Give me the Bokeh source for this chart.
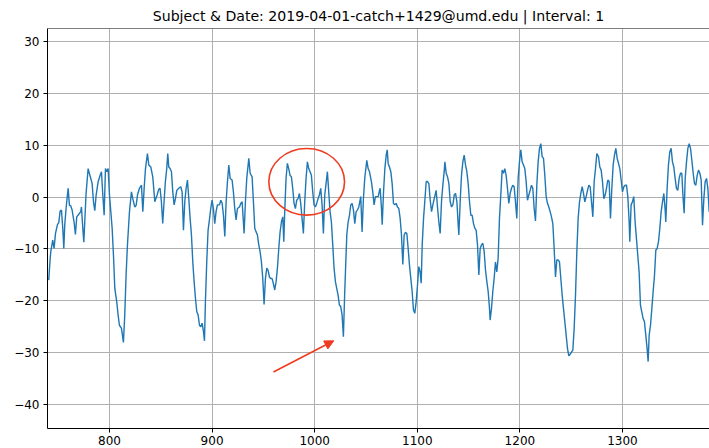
from bokeh.plotting import figure
from bokeh.models import Range1d, FixedTicker, Arrow, NormalHead, Span
from bokeh.embed import file_html
from bokeh.resources import INLINE

TITLE = "Subject & Date: 2019-04-01-catch+1429@umd.edu | Interval: 1"
x_ticks = [800, 900, 1000, 1100, 1200, 1300]
y_ticks = [-40, -30, -20, -10, 0, 10, 20, 30]
y_tick_labels = {t: (f"\u2212{abs(t)}" if t < 0 else str(t)) for t in y_ticks}

# signal, (sample, value), in six consecutive stretches
seg_1 = [(740.8,-16.0),(742.1,-12.1),(742.8,-10.5),(744.7,-8.3),(746.0,-9.9),(747.4,-7.0),(749.3,-5.3),(750.6,-4.9),
         (751.9,-2.7),(753.2,-2.5),(754.5,-6.0),(755.5,-9.9),(756.4,-5.4),(757.7,-2.2),(759.7,1.7),(761.0,-1.6),
         (762.3,-1.7),(763.6,-2.5),(765.5,-4.8),(766.8,-7.2),(768.1,-3.8),(770.1,-3.3),(772.0,-2.8),(772.7,-1.9),
         (774.0,-6.0),(775.0,-8.7),(775.9,-4.8),(777.2,0.7),(779.2,5.5),(780.5,4.5),(781.8,3.6),(783.1,2.6),
         (784.4,-0.9),(785.7,-2.6),(787.0,0.4),(788.9,2.9),(790.9,4.2),(792.2,4.9),(793.5,0.4),(794.8,-3.5),
         (796.1,5.5),(797.4,4.9),(798.7,5.5),(800.0,0.4),(801.3,-2.8),(802.6,-6.0),(803.9,-11.2),(805.2,-17.6),
         (807.1,-20.2),(808.4,-22.7),(809.7,-24.7),(811.7,-25.3),(813.6,-28.0),(814.9,-22.7),(816.2,-15.0),
         (817.5,-9.3),(819.5,-2.8),(821.4,1.0),(822.7,-0.3),(824.7,-1.9),(826.0,-1.6),(827.3,0.4),(829.2,1.7),
         (831.2,2.3),(832.5,-2.8),(833.8,1.7),(835.1,5.5),(837.0,8.4),(838.3,6.2),(840.3,5.8),(842.2,3.9),(844.2,-0.9)]
seg_2 = [(846.4,0.4),(848.0,1.5),(849.3,1.7),(850.6,-0.9),(851.9,-5.1),(853.2,-0.9),(854.5,3.0),(855.8,5.5),
         (856.8,8.4),(857.8,5.8),(859.1,5.5),(860.4,4.9),(861.7,1.0),(863.0,-1.5),(864.3,-0.3),(865.6,1.3),
         (867.5,1.7),(869.5,2.0),(870.8,1.0),(872.1,-6.4),(873.4,-0.9),(874.7,1.7),(876.0,3.3),(877.3,-0.3),
         (878.6,-4.1),(879.9,-7.3),(881.2,-12.5),(882.5,-16.3),(883.8,-19.5),(885.1,-22.1),(886.4,-22.7),
         (887.7,-24.7),(889.0,-25.0),(890.3,-24.3),(891.6,-25.9),(892.6,-27.7),(893.5,-20.2),(894.8,-12.5),
         (896.1,-6.4),(897.4,-4.4),(898.7,-2.2),(900.0,-0.6),(901.3,-2.2),(902.6,-5.1),(903.9,-2.8),(905.2,-1.5),
         (907.2,-1.5),(908.5,-0.6),(909.8,-1.2),(911.1,-3.5),(912.4,-7.6),(913.7,-0.9),(915.0,3.0),(916.3,6.2),
         (917.6,3.6),(919.5,3.3),(920.8,1.0),(922.1,-2.2),(923.4,-4.4),(924.7,-2.2),(926.7,-1.9),(928.0,-1.2),
         (929.3,-0.9),(929.9,-2.8),(931.2,-7.0),(932.5,-0.9),(933.8,3.6),(935.8,7.5),(937.1,4.6),(939.0,3.9),
         (940.3,-0.9),(941.6,-6.0),(942.9,-6.7),(944.2,-7.3),(945.5,-9.2),(946.8,-10.5),(948.1,-12.5),
         (949.4,-15.7),(950.7,-20.7),(952.0,-15.7),(953.3,-13.7)]
seg_3 = [(954.6,-14.1),(955.9,-15.4),(957.2,-15.7),(958.5,-15.7),(959.8,-16.7),(961.1,-17.9),(962.4,-16.3),
         (963.7,-13.7),(965.0,-9.9),(966.3,-6.7),(967.6,-4.8),(968.9,-3.8),(969.9,-8.6),(970.8,-2.8),(972.1,3.6),
         (973.4,6.5),(974.7,5.5),(976.0,4.2),(977.3,3.9),(978.6,1.7),(979.9,-1.2),(981.2,-2.2),(982.5,-0.6),
         (983.8,-0.3),(985.1,0.7),(986.4,-1.2),(987.7,-4.1),(989.0,-7.0),(990.3,-0.9),(991.6,3.6),(992.9,6.8),
         (994.2,5.5),(995.5,4.9),(996.8,4.2),(998.1,1.0),(999.4,-1.5),(1000.7,-1.9),(1002.0,-1.2),(1003.3,-0.3),
         (1004.6,0.4),(1005.9,1.7),(1007.2,-1.5),(1008.5,-7.0),(1009.8,0.4),(1011.1,2.6),(1012.4,4.9),
         (1013.7,1.0),(1015.0,-2.8),(1016.3,-4.8),(1017.6,-9.2),(1018.9,-13.7),(1020.2,-16.3),(1021.5,-17.6),
         (1022.8,-18.9),(1024.1,-20.8),(1025.4,-21.1),(1026.7,-22.7),(1028.0,-26.9),(1029.3,-18.2),
         (1030.0,-14.4),(1031.3,-7.3),(1032.6,-4.8),(1033.9,-3.5),(1035.2,-1.5),(1036.5,-1.2),(1037.8,-2.5),
         (1039.1,-5.1),(1040.4,-2.8),(1041.7,-2.5),(1043.0,-1.9),(1044.9,0.1),(1046.2,-6.7),(1047.5,-0.3),
         (1048.8,3.6),(1050.8,7.1),(1052.1,5.5),(1053.4,4.9),(1055.3,3.0),(1056.6,1.0),(1057.9,-1.5),
         (1059.2,0.1),(1060.5,0.1)]
seg_4 = [(1061.9,0.1),(1063.2,1.3),(1063.8,1.7),(1065.1,-2.2),(1065.8,-5.3),(1067.1,1.0),(1068.4,5.5),
         (1069.7,8.1),(1070.7,9.1),(1071.6,6.5),(1072.9,5.8),(1074.2,4.9),(1075.5,2.6),(1076.8,-1.2),
         (1078.1,-1.5),(1079.4,-1.2),(1080.7,-1.9),(1082.0,-2.2),(1083.3,-4.1),(1084.6,-7.3),(1085.9,-13.0),
         (1087.2,-7.3),(1088.5,-6.8),(1089.8,-7.0),(1091.1,-9.9),(1092.4,-13.1),(1093.7,-15.7),(1095.0,-18.2),
         (1096.3,-21.8),(1097.6,-22.4),(1098.9,-20.2),(1100.2,-17.0),(1101.5,-13.4),(1102.8,-14.4),
         (1103.8,-16.6),(1104.8,-9.2),(1106.1,-4.1),(1107.4,-0.6),(1108.7,3.0),(1110.0,3.0),(1111.3,2.6),
         (1112.6,-0.6),(1113.9,-2.8),(1115.2,-1.5),(1116.5,-0.3),(1118.4,1.3),(1119.7,-1.9),(1121.0,-4.8),
         (1122.3,-7.0),(1123.6,-0.9),(1124.9,2.3),(1126.2,4.9),(1126.9,6.8),(1128.2,4.6),(1129.5,3.9),
         (1130.8,2.6),(1132.1,-0.9),(1133.4,-1.9),(1134.7,-1.5),(1136.0,0.4),(1137.3,0.7),(1138.6,-0.9),
         (1139.9,-5.4),(1140.5,-7.3),(1141.8,-0.9),(1143.1,4.2),(1144.4,6.8),(1145.7,8.1),(1147.0,6.2),
         (1148.3,4.9),(1149.6,2.6),(1150.9,-0.9),(1152.2,-3.5),(1153.5,-3.5),(1154.8,-5.1),(1156.1,-6.0),
         (1157.4,-6.4),(1158.7,-9.2),(1160.0,-15.0),(1161.3,-9.9),(1162.6,-9.2),(1163.9,-8.9),(1165.2,-10.5),
         (1166.5,-14.1),(1167.8,-16.3)]
seg_5 = [(1169.1,-18.2),(1170.4,-21.5),(1171.0,-23.7),(1172.3,-21.5),(1173.6,-18.2),(1174.9,-15.7),
         (1176.2,-12.5),(1177.5,-14.4),(1178.8,-11.8),(1180.1,-4.1),(1181.4,0.4),(1182.7,5.2),(1184.0,4.6),
         (1185.3,5.5),(1186.6,4.2),(1187.9,1.7),(1189.2,-1.2),(1190.5,0.7),(1191.8,1.7),(1193.1,2.3),
         (1194.4,2.0),(1195.7,-0.9),(1197.0,-4.1),(1198.3,3.6),(1199.6,6.8),(1200.9,9.1),(1202.2,6.8),
         (1203.5,6.2),(1204.8,5.5),(1206.1,3.0),(1207.4,-0.6),(1208.7,0.4),(1210.0,1.3),(1211.3,2.3),
         (1212.6,1.7),(1213.9,-2.2),(1215.2,-4.6),(1216.5,2.3),(1217.8,6.8),(1219.1,9.4),(1220.4,10.3),
         (1221.7,7.8),(1223.0,7.5),(1224.3,4.2),(1225.6,0.1),(1226.9,-1.2),(1228.2,-1.9),(1229.5,-2.8),
         (1230.8,-3.8),(1232.1,-5.1),(1233.4,-9.9),(1234.7,-15.4),(1236.0,-12.1),(1237.3,-12.1),(1238.6,-12.5),
         (1239.9,-15.7),(1241.2,-18.9),(1242.5,-21.5),(1243.8,-24.0),(1245.1,-26.6),(1246.4,-29.2),
         (1247.7,-30.6),(1249.0,-30.3),(1250.3,-29.9),(1251.6,-29.5),(1252.9,-25.3),(1254.2,-18.9),
         (1255.5,-10.5),(1256.8,-4.1),(1258.1,-0.9),(1259.4,0.7),(1260.7,2.0),(1262.0,0.7),(1263.3,-0.9),
         (1264.6,0.1),(1265.9,1.3),(1267.2,2.3),(1268.5,2.0),(1269.8,-0.9),(1271.1,-3.8),(1272.4,3.0),
         (1273.7,5.5),(1275.0,8.4)]
seg_6 = [(1276.6,7.8),(1277.9,5.8),(1279.2,5.2),(1280.5,3.0),(1281.8,-0.3),(1283.1,0.4),(1284.4,1.7),
         (1285.7,3.3),(1287.0,3.0),(1288.3,-4.1),(1289.6,1.7),(1290.9,6.2),(1292.2,8.1),(1293.5,9.4),
         (1294.8,7.5),(1296.1,6.5),(1297.4,5.5),(1298.7,3.3),(1300.0,1.0),(1301.3,2.0),(1302.6,2.3),
         (1303.9,2.3),(1305.2,0.1),(1306.5,-4.8),(1307.1,-8.6),(1308.4,-1.5),(1309.7,-0.9),(1311.0,0.1),
         (1312.3,-4.8),(1313.6,-8.0),(1314.9,-11.2),(1316.2,-14.4),(1317.5,-20.8),(1318.8,-22.1),
         (1320.1,-23.4),(1321.4,-24.0),(1322.7,-26.6),(1324.0,-29.2),(1325.0,-31.7),(1326.0,-26.6),
         (1327.3,-24.7),(1328.6,-21.5),(1329.9,-18.2),(1331.2,-15.0),(1332.5,-10.2),(1333.8,-9.9),
         (1335.1,-8.6),(1336.4,-6.0),(1337.7,-2.8),(1339.0,-0.9),(1340.3,0.7),(1341.6,-2.5),(1342.2,-4.8),
         (1343.5,1.7),(1344.8,6.2),(1346.1,8.7),(1347.4,9.4),(1348.7,6.8),(1350.0,5.8),(1351.3,3.6),
         (1352.6,1.7),(1353.9,1.3),(1355.2,3.6),(1356.5,4.6),(1357.8,4.6),(1359.1,-0.3),(1360.1,-3.1),
         (1361.1,3.6),(1362.4,6.8),(1363.7,9.4),(1365.0,10.3),(1366.3,9.4),(1367.6,7.1),(1368.9,4.6),
         (1370.2,2.6),(1371.5,2.3),(1372.8,4.2),(1374.1,5.2),(1375.4,4.6),(1376.7,3.3),(1378.0,-5.4),
         (1379.3,-0.3),(1380.6,3.0),(1381.9,3.6),(1383.2,1.7),(1384.5,-2.8)]

# hand-drawn annotations (data coordinates)
circle_x, circle_y = 992.2, 2.95
circle_w, circle_h = 73.8, 12.85
arrow_from = (959.8, -33.7)
arrow_to = (1018.6, -27.7)

X_START, X_END = 739.6, 1384.8
Y_START, Y_END = -44.6, 32.5

RED = "#ef3b1f"
BLUE = "#1f77b4"
FONT = "DejaVu Sans"

segments = [seg_1, seg_2, seg_3, seg_4, seg_5, seg_6]
xs = [pt[0] for seg in segments for pt in seg]
ys = [pt[1] for seg in segments for pt in seg]

p = figure(width=709, height=448, title=TITLE,
           x_range=Range1d(X_START, X_END), y_range=Range1d(Y_START, Y_END),
           output_backend="svg", toolbar_location=None,
           min_border_left=47, min_border_right=0, min_border_top=28, min_border_bottom=20)
p.background_fill_color = "white"
p.border_fill_color = "white"
p.outline_line_color = None

p.title.text_font = FONT
p.title.text_font_size = "14.1px"
p.title.text_font_style = "normal"
p.title.text_color = "black"
p.title.align = "center"
p.title.standoff = 10
p.title.text_line_height = 1.0

p.xaxis.ticker = FixedTicker(ticks=x_ticks)
p.yaxis.ticker = FixedTicker(ticks=y_ticks)
p.yaxis.major_label_overrides = y_tick_labels
for ax in (p.xaxis, p.yaxis):
    ax.major_label_text_font = FONT
    ax.major_label_text_font_size = "12px"
    ax.major_label_text_color = "black"
    ax.axis_line_color = "black"
    ax.axis_line_width = 1
    ax.major_tick_line_color = "black"
    ax.major_tick_in = 0
    ax.major_tick_out = 4
    ax.minor_tick_line_color = None
p.xaxis.major_label_standoff = 3
p.yaxis.major_label_standoff = 4

p.grid.grid_line_color = "#b0b0b0"
p.grid.grid_line_width = 1

p.add_layout(Span(location=Y_END, dimension="width", line_color="black", line_width=1))

p.line(xs, ys, line_color=BLUE, line_width=1.4)

p.ellipse(x=[circle_x], y=[circle_y], width=[circle_w], height=[circle_h],
          fill_color=None, line_color=RED, line_width=1.6)
p.add_layout(Arrow(end=NormalHead(size=9, fill_color=RED, line_color=RED, line_width=1),
                   x_start=arrow_from[0], y_start=arrow_from[1],
                   x_end=arrow_to[0], y_end=arrow_to[1],
                   line_color=RED, line_width=1.6))

open("out.html", "w").write(file_html(p, INLINE))
